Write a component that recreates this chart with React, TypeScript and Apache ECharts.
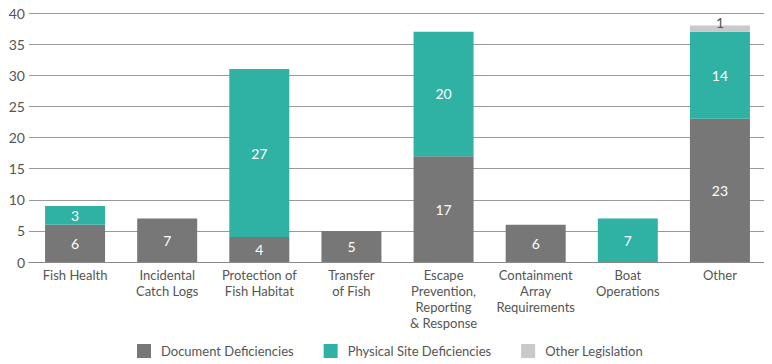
import React, { useEffect, useRef } from "react";
import * as echarts from "echarts";

const categories = [
  "Fish Health",
  "Incidental\nCatch Logs",
  "Protection of\nFish Habitat",
  "Transfer\nof Fish",
  "Escape\nPrevention,\nReporting\n& Response",
  "Containment\nArray\nRequirements",
  "Boat\nOperations",
  "Other",
];
const documentDeficiencies = [6, 7, 4, 5, 17, 6, null, 23];
const physicalSiteDeficiencies = [3, null, 27, null, 20, null, 7, 14];
const otherLegislation = [null, null, null, null, null, null, null, 1];
const yTicks = { min: 0, max: 40, interval: 5 };

const FONT = "Lato, 'Open Sans', sans-serif";

export default function App() {
  const ref = useRef<HTMLDivElement>(null);
  useEffect(() => {
    if (!ref.current) return;
    const chart = echarts.init(ref.current, undefined, { renderer: "svg" });
    const innerLabel = {
      show: true,
      position: "inside" as const,
      color: "#ffffff",
      fontSize: 14,
      fontFamily: FONT,
    };
    chart.setOption({
      animation: false,
      textStyle: { fontFamily: FONT },
      grid: { left: 29, right: 6, top: 13, bottom: 102, outerBoundsMode: "none", containLabel: false },
      legend: {
        top: 344,
        left: 137,
        padding: 0,
        itemWidth: 14,
        itemHeight: 14,
        itemGap: 30,
        icon: "rect",
        textStyle: { color: "#555555", fontSize: 13, fontFamily: FONT, padding: [0, 0, 0, 5] },
        data: ["Document Deficiencies", "Physical Site Deficiencies", "Other Legislation"],
      },
      xAxis: {
        type: "category",
        data: categories,
        axisLine: { lineStyle: { color: "#8a8a8a" } },
        axisTick: { show: false },
        axisLabel: {
          color: "#555555",
          fontSize: 13,
          lineHeight: 16,
          margin: 5,
          interval: 0,
          fontFamily: FONT,
        },
      },
      yAxis: {
        type: "value",
        min: yTicks.min,
        max: yTicks.max,
        interval: yTicks.interval,
        axisLine: { show: false },
        axisTick: { show: false },
        axisLabel: {
          color: "#555555",
          fontSize: 14,
          margin: 4,
          fontFamily: FONT,
        },
        splitLine: { lineStyle: { color: "#9a9a9a", width: 1 } },
      },
      series: [
        {
          name: "Document Deficiencies",
          type: "bar",
          stack: "total",
          barWidth: 60,
          data: documentDeficiencies,
          itemStyle: { color: "#777777" },
          label: innerLabel,
        },
        {
          name: "Physical Site Deficiencies",
          type: "bar",
          stack: "total",
          barWidth: 60,
          data: physicalSiteDeficiencies,
          itemStyle: { color: "#2fb2a3" },
          label: innerLabel,
        },
        {
          name: "Other Legislation",
          type: "bar",
          stack: "total",
          barWidth: 60,
          data: otherLegislation,
          itemStyle: { color: "#c9c9c9" },
          label: {
            show: true,
            position: "top",
            distance: -4,
            color: "#555555",
            fontSize: 14,
            fontFamily: FONT,
          },
        },
      ],
    });
    return () => chart.dispose();
  }, []);
  return <div ref={ref} style={{ width: 772, height: 364, marginLeft: -8, marginTop: -8 }} />;
}
